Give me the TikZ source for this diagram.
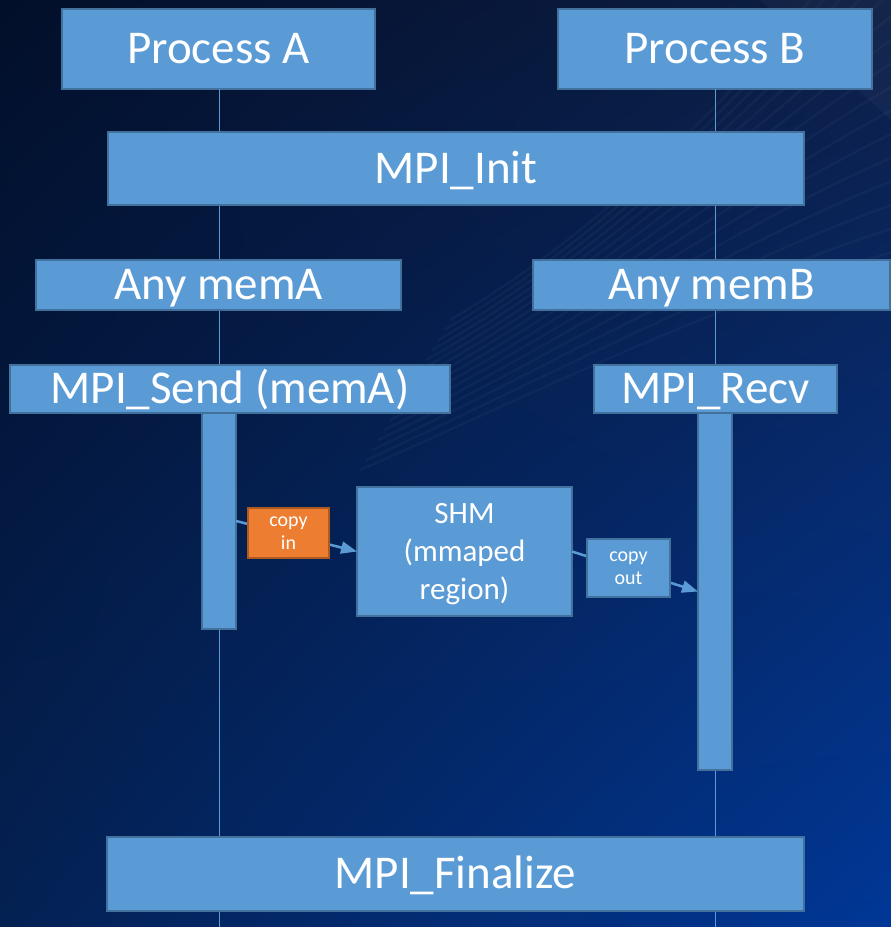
\documentclass[tikz,border=0pt]{standalone}
\usepackage{fontspec}
\setmainfont{Carlito}
\usetikzlibrary{arrows.meta}

\definecolor{boxfill}{HTML}{5B9BD5}
\definecolor{boxedge}{HTML}{41719C}
\definecolor{copyfill}{HTML}{ED7D31}
\definecolor{copyedge}{HTML}{AE5A21}

% bilinear backdrop: dark navy top left, bright blue bottom right
\pgfdeclarefunctionalshading{backdrop}{\pgfpoint{0bp}{0bp}}{\pgfpoint{100bp}{100bp}}{}{
  25 sub 50 div exch 25 sub 50 div exch
  1 index -0.016 mul 1 index -0.008 mul add 2 index 2 index mul 0.059 mul add 0.016 add
  3 1 roll
  1 index 0.087 mul 1 index -0.070 mul add 2 index 2 index mul -0.028 mul add 0.129 add
  3 1 roll
  1 index 0.267 mul 1 index -0.160 mul add 2 index 2 index mul -0.161 mul add 0.325 add
  3 1 roll pop pop
}

\tikzset{
  box/.style={draw=boxedge, fill=boxfill, line width=1.5pt, inner sep=0pt,
    outer sep=0pt, text=white, font=\fontsize{47}{56}\selectfont,
    text height=29.7pt, text depth=0pt},
  bar/.style={draw=boxedge, fill=boxfill, line width=1.5pt, inner sep=0pt,
    outer sep=0pt, minimum width=34pt},
  shmbox/.style={draw=boxedge, fill=boxfill, line width=1.5pt, inner sep=0pt,
    outer sep=0pt, text=white, align=center, font=\fontsize{31}{38}\selectfont,
    text depth=0pt},
  copybox/.style={line width=1.5pt, inner sep=0pt, outer sep=0pt, text=white,
    align=center, font=\fontsize{20}{23.5}\selectfont, text depth=0pt},
  lifeline/.style={draw=boxfill, line width=1pt},
  flow/.style={draw=boxfill, line width=2.5pt, -{Triangle[length=16pt,width=12pt]}},
  streak/.style={draw=white, opacity=0.03, line width=2.5pt},
}

\begin{document}
\begin{tikzpicture}[x=1pt, y=-1pt]
  % backdrop with faint sweeping streaks
  \useasboundingbox (0,0) rectangle (891,927);
  \shade[shading=backdrop] (0,0) rectangle (891,927);
  \foreach \k in {0,...,15}{
    \draw[streak] ({360+6*\k},{470-10*\k}) .. controls ({520+10*\k},{400-14*\k})
      and ({720+6*\k},{300-20*\k}) .. (900,{250-24*\k});
  }
  \fill[white, opacity=0.03] (760,0) -- (891,0) -- (891,120) -- cycle;

  % participants
  \node[box, minimum width=313pt, minimum height=80pt] (pa) at (218.5,49) {Process A};
  \node[box, minimum width=314pt, minimum height=80pt] (pb) at (715,49) {Process B};
  \coordinate (endA) at (219,927);
  \coordinate (endB) at (715,927);

  % lifelines, drawn before the boxes that sit on them
  \draw[lifeline] (pa.south -| endA) -- (endA);
  \draw[lifeline] (pb.south -| endB) -- (endB);

  \node[box, minimum width=696pt, minimum height=73pt] (init) at (456,168.5) {MPI\_Init};
  \node[box, minimum width=365pt, minimum height=50pt] (mema) at (218.5,285) {Any memA};
  \node[box, minimum width=357pt, minimum height=50pt] (memb) at (711.5,285) {Any memB};
  \node[box, minimum width=440pt, minimum height=48pt] (send) at (230,389) {MPI\_Send (memA)};
  \node[box, minimum width=243pt, minimum height=48pt] (recv) at (715.5,389) {MPI\_Recv};

  % activation bars
  \node[bar, minimum height=216pt] (barA) at (219,521) {};
  \node[bar, minimum height=357pt] (barB) at (715,591.5) {};

  % shared memory segment
  \node[shmbox, minimum width=215pt, minimum height=129pt] (shm) at (464.5,551.5)
    {SHM\\(mmaped\\region)};

  % data movement
  \draw[flow] (barA.east) -- (shm.west);
  \draw[flow] (shm.east) -- (barB.west);
  \node[copybox, draw=copyedge, fill=copyfill, minimum width=81pt, minimum height=50pt]
    (cin) at (288.5,533) {copy\\in};
  \node[copybox, draw=boxedge, fill=boxfill, minimum width=83pt, minimum height=58pt]
    (cout) at (628.5,568) {copy\\out};

  \node[box, minimum width=697pt, minimum height=74pt] (fin) at (455.5,874) {MPI\_Finalize};
\end{tikzpicture}
\end{document}
